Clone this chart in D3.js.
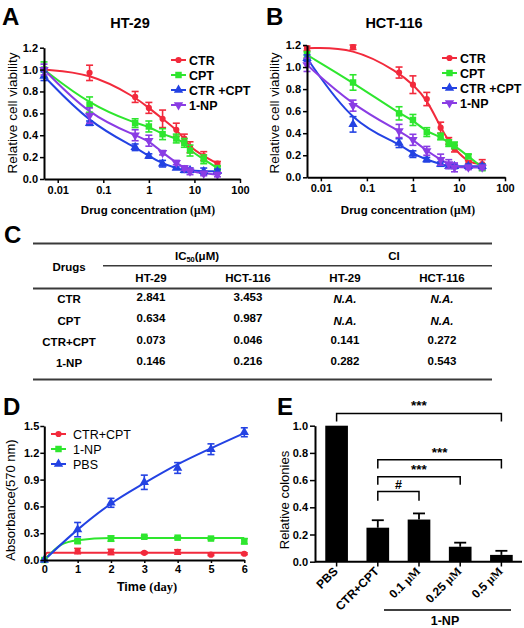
<!DOCTYPE html>
<html><head><meta charset="utf-8">
<script src="https://cdn.jsdelivr.net/npm/d3@7"></script>
<style>
body{margin:0;background:#fff;}
svg{font-family:"Liberation Sans",Arial,Helvetica,sans-serif;}
</style></head><body>
<svg id="c" width="524" height="628"></svg>
<script>
// ---------- DATA ----------
const conc = [0.005, 0.05, 0.5, 1, 2, 4, 6, 8, 16, 32];
const concTicks = [0.01, 0.1, 1, 10, 100];
const concTickLabels = ["0.01", "0.1", "1", "10", "100"];
const viabTicks = [0, 0.2, 0.4, 0.6, 0.8, 1.0, 1.2];
const seriesNames = ["CTR", "CPT", "CTR +CPT", "1-NP"];
const seriesColors = ["#f22a3c", "#2ee62e", "#2342e3", "#8a3ce4"];

// Panel A: HT-29
const htCTR = [1.00, 0.97, 0.75, 0.65, 0.55, 0.45, 0.37, 0.29, 0.21, 0.14];
const htCTRErr = [0.01, 0.07, 0.05, 0.05, 0.08, 0.06, 0.04, 0.05, 0.04, 0.02];
const htCPT = [1.00, 0.68, 0.51, 0.48, 0.41, 0.37, 0.33, 0.26, 0.18, 0.10];
const htCPTErr = [0.07, 0.07, 0.04, 0.05, 0.05, 0.04, 0.04, 0.05, 0.04, 0.02];
const htCombo = [0.94, 0.51, 0.29, 0.21, 0.14, 0.10, 0.08, 0.08, 0.07, 0.07];
const htComboErr = [0.04, 0.02, 0.03, 0.02, 0.03, 0.01, 0.02, 0.02, 0.03, 0.02];
const htNP = [1.00, 0.58, 0.40, 0.35, 0.24, 0.15, 0.10, 0.07, 0.05, 0.04];
const htNPErr = [0.05, 0.07, 0.05, 0.05, 0.02, 0.02, 0.02, 0.03, 0.02, 0.02];

// Panel B: HCT-116
const hctCTR = [1.17, 1.18, 0.95, 0.84, 0.71, 0.45, 0.33, 0.26, 0.13, 0.12];
const hctCTRErr = [0.02, 0.02, 0.05, 0.08, 0.06, 0.05, 0.03, 0.03, 0.02, 0.04];
const hctCPT = [1.11, 0.86, 0.58, 0.52, 0.41, 0.37, 0.31, 0.29, 0.19, 0.09];
const hctCPTErr = [0.03, 0.07, 0.06, 0.05, 0.04, 0.03, 0.03, 0.03, 0.02, 0.03];
const hctCombo = [1.08, 0.48, 0.31, 0.21, 0.16, 0.12, 0.10, 0.10, 0.10, 0.10];
const hctComboErr = [0.03, 0.07, 0.04, 0.03, 0.02, 0.02, 0.02, 0.02, 0.02, 0.02];
const hctNP = [1.02, 0.65, 0.42, 0.34, 0.24, 0.16, 0.12, 0.09, 0.09, 0.09];
const hctNPErr = [0.06, 0.05, 0.06, 0.05, 0.04, 0.05, 0.04, 0.04, 0.02, 0.02];

// Panel C table
const tableCols = ["HT-29", "HCT-116", "HT-29", "HCT-116"];
const tableDrugs = ["CTR", "CPT", "CTR+CPT", "1-NP"];
const ic50HT29 = ["2.841", "0.634", "0.073", "0.146"];
const ic50HCT116 = ["3.453", "0.987", "0.046", "0.216"];
const ciHT29 = ["N.A.", "N.A.", "0.141", "0.282"];
const ciHCT116 = ["N.A.", "N.A.", "0.272", "0.543"];

// Panel D
const days = [0, 1, 2, 3, 4, 5, 6];
const dayTicks = [0, 1, 2, 3, 4, 5, 6];
const absTicks = [0, 0.3, 0.6, 0.9, 1.2, 1.5];
const dNames = ["CTR+CPT", "1-NP", "PBS"];
const dColors = ["#f22a3c", "#2ee62e", "#2342e3"];
const absCombo = [0, 0.10, 0.09, 0.08, 0.09, 0.06, 0.07];
const absComboErr = [0, 0.03, 0.03, 0.01, 0.025, 0.01, 0.01];
const absNP = [0, 0.21, 0.24, 0.26, 0.25, 0.24, 0.21];
const absNPErr = [0, 0.02, 0.03, 0.01, 0.01, 0.01, 0.03];
const absPBS = [0, 0.34, 0.64, 0.87, 1.03, 1.24, 1.43];
const absPBSErr = [0, 0.08, 0.05, 0.08, 0.06, 0.06, 0.05];
// fitted curves
const fitComboDays = [0, 0.08, 6];
const fitComboVals = [0, 0.08, 0.08];
const fitNPDays = [0, 0.5, 1, 2, 6];
const fitNPVals = [0, 0.17, 0.22, 0.245, 0.245];
const fitPBSDays = [0, 1, 2, 3, 4, 5, 6];
const fitPBSVals = [0, 0.34, 0.63, 0.86, 1.07, 1.25, 1.42];

// Panel E
const eCats = ["PBS", "CTR+CPT", "0.1 μM", "0.25 μM", "0.5 μM"];
const eVals = [1.0, 0.25, 0.31, 0.11, 0.05];
const eErr = [0, 0.055, 0.045, 0.03, 0.03];
const eTicks = [0, 0.2, 0.4, 0.6, 0.8, 1.0];
const eComps = [
  {a: "PBS", b: "0.5 μM", top: 1.09, foot: 1.03, label: "***"},
  {a: "CTR+CPT", b: "0.5 μM", top: 0.75, foot: 0.686, label: "***"},
  {a: "CTR+CPT", b: "0.25 μM", top: 0.625, foot: 0.565, label: "***"},
  {a: "CTR+CPT", b: "0.1 μM", top: 0.516, foot: 0.448, label: "#"}
];

// ---------- DRAW ----------
const svg = d3.select("#c");
const FONT = '"Liberation Sans",Arial,Helvetica,sans-serif';
const SERIF = "'Liberation Serif','DejaVu Serif',serif";

function styleAxis(g, fs) {
  g.select(".domain").attr("stroke", "#000").attr("stroke-width", 2);
  g.selectAll(".tick line").attr("stroke", "#000").attr("stroke-width", 1.5);
  g.selectAll(".tick text").attr("fill", "#000").attr("font-weight", "bold")
    .attr("font-size", fs || 11).attr("font-family", FONT);
}

function symbolFor(i) {
  const types = [d3.symbolCircle, d3.symbolSquare, d3.symbolTriangle, d3.symbolTriangle];
  const sizes = [30, 42, 38, 38];
  return d3.symbol().type(types[i]).size(sizes[i])();
}
function symRot(i) { return i === 3 ? " rotate(180)" : ""; }

function letter(txt, x, y) {
  svg.append("text").attr("x", x).attr("y", y).text(txt)
    .attr("font-size", 24).attr("font-weight", "bold").attr("fill", "#000");
}

function dosePanel(opt) {
  const x = d3.scaleLog().domain([0.005, 100]).range([opt.x0, opt.x1]);
  const y = d3.scaleLinear().domain([0, 1.2]).range([opt.yb, opt.yt]);
  const g = svg.append("g");
  const series = opt.series;
  series.forEach((s, i) => {
    const pts = conc.map((c, k) => ({c, v: s.v[k], e: s.e[k]}));
    const line = d3.line().x(d => x(d.c)).y(d => y(d.v)).curve(d3.curveBasis);
    g.append("path").datum(pts).attr("d", line).attr("fill", "none")
      .attr("stroke", seriesColors[i]).attr("stroke-width", 2);
  });
  series.forEach((s, i) => {
    const pts = conc.map((c, k) => ({c, v: s.v[k], e: s.e[k]}));
    const eb = g.append("g").attr("stroke", seriesColors[i]).attr("stroke-width", 1.6);
    pts.forEach(d => {
      const cx = x(d.c), y1 = y(d.v + d.e), y2 = y(d.v - d.e);
      eb.append("line").attr("x1", cx).attr("x2", cx).attr("y1", y1).attr("y2", y2);
      eb.append("line").attr("x1", cx - 3.5).attr("x2", cx + 3.5).attr("y1", y1).attr("y2", y1);
      eb.append("line").attr("x1", cx - 3.5).attr("x2", cx + 3.5).attr("y1", y2).attr("y2", y2);
    });
    g.selectAll(null).data(pts).enter().append("path")
      .attr("d", symbolFor(i)).attr("fill", seriesColors[i])
      .attr("transform", d => `translate(${x(d.c)},${y(d.v)})${symRot(i)}`);
  });
  const ax = g.append("g").attr("transform", `translate(0,${opt.yb})`)
    .call(d3.axisBottom(x).tickValues(concTicks).tickFormat((d, k) => concTickLabels[k]).tickSize(4).tickSizeOuter(0).tickPadding(3));
  styleAxis(ax);
  const ay = g.append("g").attr("transform", `translate(${opt.x0},0)`)
    .call(d3.axisLeft(y).tickValues(viabTicks).tickFormat(d3.format(".1f")).tickSize(4).tickSizeOuter(0).tickPadding(2));
  styleAxis(ay);
  // title
  g.append("text").attr("x", opt.titleX).attr("y", 28).attr("text-anchor", "middle")
    .attr("font-size", 14.5).attr("font-weight", "bold").text(opt.title);
  // axis labels
  const xl = g.append("text").attr("x", opt.xlabX).attr("y", 214).attr("text-anchor", "middle")
    .attr("font-size", 11.5).attr("font-weight", "bold");
  xl.append("tspan").text("Drug concentration ");
  xl.append("tspan").attr("font-family", SERIF).text("(μM)");
  g.append("text").attr("transform", `translate(${opt.ylabX},113) rotate(-90)`)
    .attr("text-anchor", "middle").attr("font-size", 13.5).text("Relative cell viability");
  // legend
  seriesNames.forEach((n, i) => {
    const ly = opt.legY + i * 15;
    g.append("line").attr("x1", opt.legX).attr("x2", opt.legX + 15).attr("y1", ly).attr("y2", ly)
      .attr("stroke", seriesColors[i]).attr("stroke-width", 2);
    g.append("path").attr("d", symbolFor(i)).attr("fill", seriesColors[i])
      .attr("transform", `translate(${opt.legX + 7.5},${ly})${symRot(i)}`);
    g.append("text").attr("x", opt.legX + 18).attr("y", ly + 4.5).attr("font-size", 12.5)
      .attr("font-weight", "bold").text(n);
  });
}

letter("A", 2, 25);
dosePanel({x0: 44, x1: 240, yt: 47.7, yb: 179, title: "HT-29", titleX: 130, xlabX: 148, ylabX: 17,
  legX: 171, legY: 60,
  series: [{v: htCTR, e: htCTRErr}, {v: htCPT, e: htCPTErr}, {v: htCombo, e: htComboErr}, {v: htNP, e: htNPErr}]});
letter("B", 266, 25);
dosePanel({x0: 307, x1: 505, yt: 45, yb: 177.3, title: "HCT-116", titleX: 394, xlabX: 408, ylabX: 279,
  legX: 442, legY: 58,
  series: [{v: hctCTR, e: hctCTRErr}, {v: hctCPT, e: hctCPTErr}, {v: hctCombo, e: hctComboErr}, {v: hctNP, e: hctNPErr}]});

// ---------- Panel C: table ----------
letter("C", 4, 243);
const tg = svg.append("g");
const lineCol = "#3a3a3a";
function hline(x1, x2, y, w) {
  tg.append("line").attr("x1", x1).attr("x2", x2).attr("y1", y).attr("y2", y)
    .attr("stroke", lineCol).attr("stroke-width", w);
}
hline(33, 492, 243.5, 1.8);
hline(103, 492, 265.7, 1.5);
hline(33, 492, 288.5, 1.8);
hline(33, 492, 379.5, 1.8);
const colX = [151, 248, 345, 442];
function ttext(x, y, s, italic) {
  return tg.append("text").attr("x", x).attr("y", y).attr("text-anchor", "middle")
    .attr("font-size", 11.5).attr("font-weight", "bold").attr("font-style", italic ? "italic" : "normal").text(s);
}
const ic = tg.append("text").attr("x", 197).attr("y", 260).attr("text-anchor", "middle")
  .attr("font-size", 11.5).attr("font-weight", "bold");
ic.append("tspan").text("IC");
ic.append("tspan").attr("font-size", 7.5).attr("dy", 2).text("50");
ic.append("tspan").attr("dy", -2).text("(μM)");
ttext(394, 260, "CI");
ttext(69, 271, "Drugs");
tableCols.forEach((c, i) => ttext(colX[i], 281.5, c));
const rowY = [302, 323.5, 345, 366];
tableDrugs.forEach((d, r) => {
  ttext(69, rowY[r] + 1, d);
  ttext(colX[0], rowY[r] - 1.5, ic50HT29[r]);
  ttext(colX[1], rowY[r] - 1.5, ic50HCT116[r]);
  ttext(colX[2], rowY[r] + (ciHT29[r] === "N.A." ? 1 : -1.5), ciHT29[r], ciHT29[r] === "N.A.");
  ttext(colX[3], rowY[r] + (ciHCT116[r] === "N.A." ? 1 : -1.5), ciHCT116[r], ciHCT116[r] === "N.A.");
});

// ---------- Panel D ----------
letter("D", 3, 415);
(function () {
  const x = d3.scaleLinear().domain([0, 6]).range([44.3, 244.3]);
  const y = d3.scaleLinear().domain([0, 1.5]).range([560, 426]);
  const g = svg.append("g");
  const vals = [absCombo, absNP, absPBS], errs = [absComboErr, absNPErr, absPBSErr];
  const fits = [[fitComboDays, fitComboVals], [fitNPDays, fitNPVals], [fitPBSDays, fitPBSVals]];
  const shapes = [0, 1, 2];
  fits.forEach((f, i) => {
    const pts = f[0].map((dd, k) => [dd, f[1][k]]);
    g.append("path").datum(pts)
      .attr("d", d3.line().x(d => x(d[0])).y(d => y(d[1])).curve(d3.curveMonotoneX))
      .attr("fill", "none").attr("stroke", dColors[i]).attr("stroke-width", 2);
  });
  vals.forEach((v, i) => {
    const eb = g.append("g").attr("stroke", dColors[i]).attr("stroke-width", 1.6);
    days.forEach((dd, k) => {
      if (errs[i][k] <= 0) return;
      const cx = x(dd), y1 = y(v[k] + errs[i][k]), y2 = y(v[k] - errs[i][k]);
      eb.append("line").attr("x1", cx).attr("x2", cx).attr("y1", y1).attr("y2", y2);
      eb.append("line").attr("x1", cx - 3.5).attr("x2", cx + 3.5).attr("y1", y1).attr("y2", y1);
      eb.append("line").attr("x1", cx - 3.5).attr("x2", cx + 3.5).attr("y1", y2).attr("y2", y2);
    });
    g.selectAll(null).data(days).enter().append("path")
      .attr("d", symbolFor(shapes[i])).attr("fill", dColors[i])
      .attr("transform", (dd, k) => `translate(${x(dd)},${y(v[k])})`);
  });
  const ax = g.append("g").attr("transform", "translate(0,560)")
    .call(d3.axisBottom(x).tickValues(dayTicks).tickFormat(d3.format("d")).tickSize(3).tickSizeOuter(0).tickPadding(2));
  styleAxis(ax);
  const ay = g.append("g").attr("transform", "translate(44.3,0)")
    .call(d3.axisLeft(y).tickValues(absTicks).tickFormat(d3.format(".1f")).tickSize(4).tickSizeOuter(0).tickPadding(1));
  styleAxis(ay);
  const xl = g.append("text").attr("x", 147).attr("y", 590.5).attr("text-anchor", "middle")
    .attr("font-size", 12.5).attr("font-weight", "bold");
  xl.append("tspan").text("Time ");
  xl.append("tspan").attr("font-family", SERIF).text("(day)");
  g.append("text").attr("transform", "translate(14.5,500) rotate(-90)").attr("text-anchor", "middle")
    .attr("font-size", 13).text("Absorbance(570 nm)");
  dNames.forEach((n, i) => {
    const ly = 434 + i * 15;
    g.append("line").attr("x1", 51).attr("x2", 66).attr("y1", ly).attr("y2", ly)
      .attr("stroke", dColors[i]).attr("stroke-width", 2);
    g.append("path").attr("d", symbolFor(shapes[i])).attr("fill", dColors[i])
      .attr("transform", `translate(58.5,${ly})`);
    g.append("text").attr("x", 73).attr("y", ly + 4.5).attr("font-size", 12.5).text(n);
  });
})();

// ---------- Panel E ----------
letter("E", 277, 415);
(function () {
  const x = d3.scaleBand().domain(eCats).range([316, 522]).paddingInner(0.45).paddingOuter(0.225);
  const y = d3.scaleLinear().domain([0, 1.0]).range([561.7, 425.7]);
  const g = svg.append("g");
  const cx = c => x(c) + x.bandwidth() / 2;
  g.selectAll(null).data(eCats).enter().append("rect")
    .attr("x", d => x(d)).attr("width", x.bandwidth())
    .attr("y", (d, i) => y(eVals[i])).attr("height", (d, i) => y(0) - y(eVals[i]))
    .attr("fill", "#000");
  eCats.forEach((c, i) => {
    if (eErr[i] <= 0) return;
    const top = y(eVals[i] + eErr[i]);
    g.append("line").attr("x1", cx(c)).attr("x2", cx(c)).attr("y1", y(eVals[i])).attr("y2", top)
      .attr("stroke", "#000").attr("stroke-width", 1.8);
    g.append("line").attr("x1", cx(c) - 6).attr("x2", cx(c) + 6).attr("y1", top).attr("y2", top)
      .attr("stroke", "#000").attr("stroke-width", 1.8);
  });
  // axes
  const ay = g.append("g").attr("transform", "translate(315,0)")
    .call(d3.axisLeft(y).tickValues(eTicks).tickFormat(d3.format(".1f")).tickSize(5).tickSizeOuter(0).tickPadding(2));
  styleAxis(ay);
  g.append("line").attr("x1", 315).attr("x2", 522).attr("y1", 561.7).attr("y2", 561.7)
    .attr("stroke", "#000").attr("stroke-width", 2);
  eCats.forEach(c => {
    g.append("line").attr("x1", cx(c)).attr("x2", cx(c)).attr("y1", 561.7).attr("y2", 566.5)
      .attr("stroke", "#000").attr("stroke-width", 1.5);
    const t = g.append("text").attr("text-anchor", "end")
      .attr("transform", `translate(${cx(c) + 2},${572}) rotate(-45)`)
      .attr("font-size", 12).attr("font-weight", "bold");
    if (c.indexOf("μM") >= 0) {
      t.append("tspan").text(c.replace(" μM", " "));
      t.append("tspan").attr("font-family", SERIF).text("μM");
    } else t.text(c);
  });
  g.append("line").attr("x1", 384).attr("x2", 511).attr("y1", 610).attr("y2", 610)
    .attr("stroke", "#000").attr("stroke-width", 1.5);
  g.append("text").attr("x", 445).attr("y", 625).attr("text-anchor", "middle")
    .attr("font-size", 12.5).attr("font-weight", "bold").text("1-NP");
  g.append("text").attr("transform", "translate(289,500) rotate(-90)").attr("text-anchor", "middle")
    .attr("font-size", 13).text("Relative colonies");
  // brackets
  eComps.forEach(cmp => {
    const xa = cx(cmp.a), xb = cx(cmp.b), yt = y(cmp.top), yf = y(cmp.foot);
    g.append("path").attr("d", `M${xa},${yf}V${yt}H${xb}V${yf}`).attr("fill", "none")
      .attr("stroke", "#000").attr("stroke-width", 1.5);
    g.append("text").attr("x", (xa + xb) / 2).attr("y", yt - 3).attr("text-anchor", "middle")
      .attr("font-size", cmp.label === "#" ? 12.5 : 13.5).attr("font-weight", "bold").text(cmp.label);
  });
})();
</script>
</body></html>
